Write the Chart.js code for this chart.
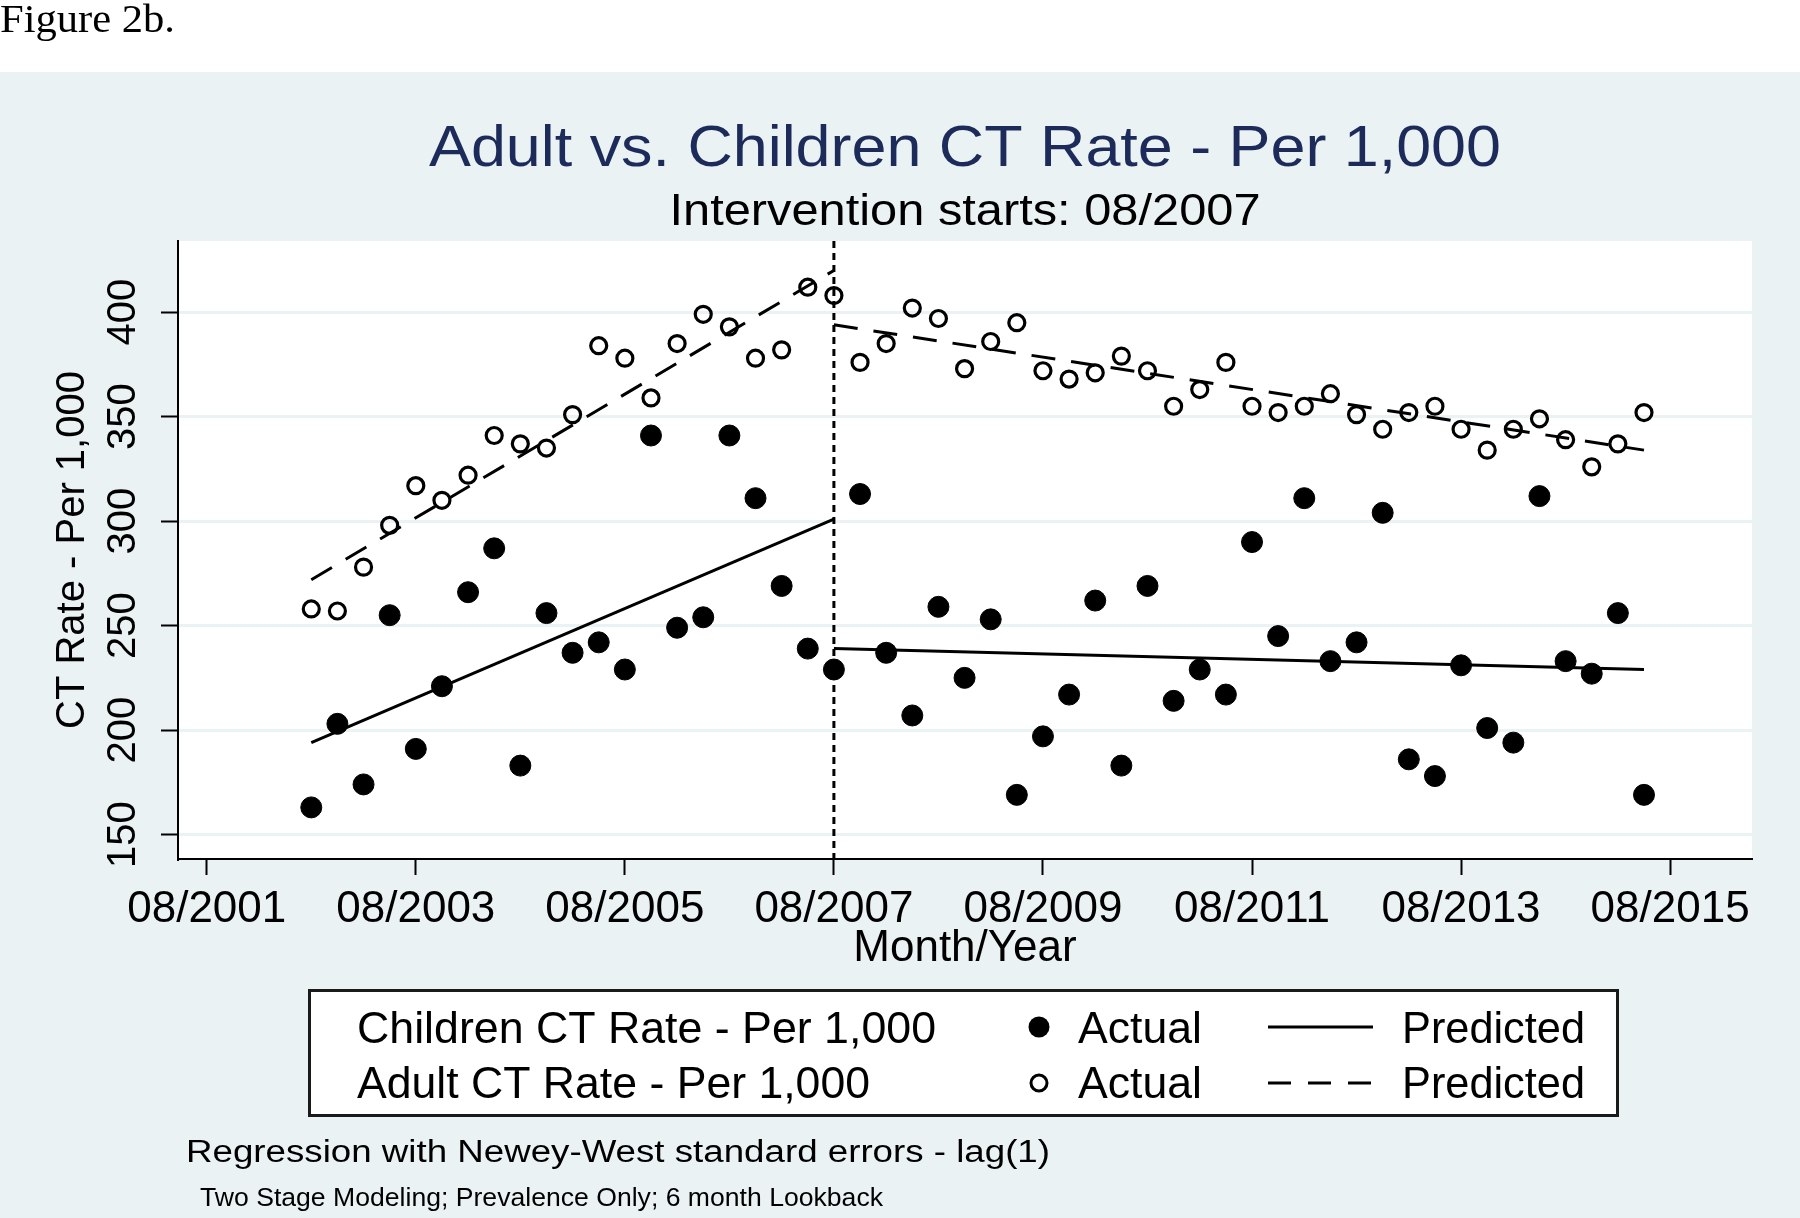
<!DOCTYPE html>
<html>
<head>
<meta charset="utf-8">
<title>Adult vs. Children CT Rate - Per 1,000</title>
<script src="https://cdn.jsdelivr.net/npm/chart.js@4.4.0/dist/chart.umd.min.js"></script>
<style>
  html, body { margin: 0; padding: 0; background: #fff; }
  canvas { display: block; }
</style>
</head>
<body>
<canvas id="ctChart" width="1800" height="1218"></canvas>
<script>
// quarterly observations (month/year)
const quarters = [
  '08/2002', '11/2002', '02/2003', '05/2003', '08/2003', '11/2003', '02/2004', '05/2004',
  '08/2004', '11/2004', '02/2005', '05/2005', '08/2005', '11/2005', '02/2006', '05/2006',
  '08/2006', '11/2006', '02/2007', '05/2007', '08/2007', '11/2007', '02/2008', '05/2008',
  '08/2008', '11/2008', '02/2009', '05/2009', '08/2009', '11/2009', '02/2010', '05/2010',
  '08/2010', '11/2010', '02/2011', '05/2011', '08/2011', '11/2011', '02/2012', '05/2012',
  '08/2012', '11/2012', '02/2013', '05/2013', '08/2013', '11/2013', '02/2014', '05/2014',
  '08/2014', '11/2014', '02/2015', '05/2015'
];

const childrenActual = [
  163, 203, 174, 255, 191, 221, 266, 287, 183, 256, 237, 242, 229,
  341, 249, 254, 341, 311, 269, 239, 229, 313, 237, 207, 259, 225,
  253, 169, 197, 217, 262, 183, 269, 214, 229, 217, 290, 245, 311,
  233, 242, 304, 186, 178, 231, 201, 194, 312, 233, 227, 256, 169
];

const adultActual = [
  258, 257, 278, 298, 317, 310, 322, 341, 337, 335, 351, 384, 378,
  359, 385, 399, 393, 378, 382, 412, 408, 376, 385, 402, 397, 373,
  386, 395, 372, 368, 371, 379, 372, 355, 363, 376, 355, 352, 355,
  361, 351, 344, 352, 355, 344, 334, 344, 349, 339, 326, 337, 352
];

// fitted segmented regression lines (end points)
const preDates = ['08/2002', '08/2007'];
const postDates = ['08/2007', '05/2015'];
const childrenPredPre = [194, 301];
const childrenPredPost = [239, 229];
const adultPredPre = [272, 420];
const adultPredPost = [394, 334];

const interventionDate = '08/2007';
const xTickLabels = ['08/2001', '08/2003', '08/2005', '08/2007', '08/2009', '08/2011', '08/2013', '08/2015'];
const yTickValues = [150, 200, 250, 300, 350, 400];

const FONT = "'Liberation Sans', Arial, sans-serif";
const BG = '#eaf2f3';

// months since 08/2001
function toMonth(d) {
    const parts = d.split('/').map(Number);
    return (parts[1] - 2001) * 12 + (parts[0] - 8);
}

function points(dates, values) {
    return dates.map((d, i) => ({ x: toMonth(d), y: values[i] }));
}

// draws text squeezed/stretched to a target width
function drawText(ctx, text, x, y, font, width, align) {
    ctx.save();
    ctx.font = font;
    const natural = ctx.measureText(text).width;
    const sx = width ? width / natural : 1;
    let ox = 0;
    if (align === 'center') ox = -natural * sx / 2;
    ctx.translate(x + ox, y);
    ctx.scale(sx, 1);
    ctx.textAlign = 'left';
    ctx.textBaseline = 'alphabetic';
    ctx.fillText(text, 0, 0);
    ctx.restore();
}

const backdrop = {
    id: 'backdrop',
    beforeDraw(chart) {
        const { ctx, width, height, chartArea: a } = chart;
        ctx.save();
        ctx.fillStyle = '#ffffff';
        ctx.fillRect(0, 0, width, height);
        ctx.fillStyle = BG;
        ctx.fillRect(0, 72, width, height - 72);
        ctx.fillStyle = '#ffffff';
        ctx.fillRect(a.left, a.top, a.right - a.left, a.bottom - a.top);
        ctx.restore();
    }
};

const interventionLine = {
    id: 'interventionLine',
    beforeDatasetsDraw(chart) {
        const { ctx, chartArea: a } = chart;
        const x = chart.scales.x.getPixelForValue(toMonth(interventionDate));
        ctx.save();
        ctx.strokeStyle = '#000';
        ctx.lineWidth = 3;
        ctx.setLineDash([7, 5]);
        ctx.beginPath();
        ctx.moveTo(x, a.top);
        ctx.lineTo(x, a.bottom);
        ctx.stroke();
        ctx.restore();
    }
};

const annotations = {
    id: 'annotations',
    afterDraw(chart) {
        const ctx = chart.ctx;
        ctx.save();
        ctx.fillStyle = '#000';
        drawText(ctx, 'Figure 2b.', 0, 32, "40px 'Liberation Serif', 'Times New Roman', serif", 175, 'left');

        ctx.fillStyle = '#1c2b5a';
        drawText(ctx, 'Adult vs. Children CT Rate - Per 1,000', 965, 166, '57px ' + FONT, 1072, 'center');
        ctx.fillStyle = '#000';
        drawText(ctx, 'Intervention starts: 08/2007', 965, 225, '45px ' + FONT, 591, 'center');

        // legend box
        ctx.fillStyle = '#ffffff';
        ctx.fillRect(308, 989, 1311, 128);
        ctx.strokeStyle = '#1a1a1a';
        ctx.lineWidth = 3;
        ctx.strokeRect(309.5, 990.5, 1308, 125);

        ctx.fillStyle = '#000';
        const lf = '44px ' + FONT;
        drawText(ctx, 'Children CT Rate - Per 1,000', 357, 1043, lf, 579, 'left');
        drawText(ctx, 'Adult CT Rate - Per 1,000', 357, 1098, lf, 513, 'left');
        drawText(ctx, 'Actual', 1078, 1043, lf, 124, 'left');
        drawText(ctx, 'Actual', 1078, 1098, lf, 124, 'left');
        drawText(ctx, 'Predicted', 1402, 1043, lf, 183, 'left');
        drawText(ctx, 'Predicted', 1402, 1098, lf, 183, 'left');

        ctx.beginPath();
        ctx.arc(1039, 1027, 10.5, 0, Math.PI * 2);
        ctx.fill();
        ctx.strokeStyle = '#000';
        ctx.lineWidth = 3;
        ctx.beginPath();
        ctx.arc(1039, 1083, 8, 0, Math.PI * 2);
        ctx.stroke();

        ctx.lineWidth = 3.2;
        ctx.beginPath();
        ctx.moveTo(1268, 1027);
        ctx.lineTo(1373, 1027);
        ctx.stroke();
        ctx.setLineDash([23, 17]);
        ctx.beginPath();
        ctx.moveTo(1268, 1083);
        ctx.lineTo(1373, 1083);
        ctx.stroke();
        ctx.setLineDash([]);

        drawText(ctx, 'Regression with Newey-West standard errors - lag(1)', 186, 1162, '31px ' + FONT, 864, 'left');
        drawText(ctx, 'Two Stage Modeling; Prevalence Only; 6 month Lookback', 200, 1206, '26px ' + FONT, 683, 'left');
        ctx.restore();
    }
};

const lineStyle = {
    showLine: true,
    pointRadius: 0,
    borderColor: '#000',
    borderWidth: 3,
    fill: false
};

const ctx = document.getElementById('ctChart').getContext('2d');
const ctChart = new Chart(ctx, {
    type: 'scatter',
    data: {
        datasets: [
            Object.assign({ label: 'Children Predicted (pre)', data: points(preDates, childrenPredPre) }, lineStyle),
            Object.assign({ label: 'Children Predicted (post)', data: points(postDates, childrenPredPost) }, lineStyle),
            Object.assign({ label: 'Adult Predicted (pre)', data: points(preDates, adultPredPre), borderDash: [24, 16] }, lineStyle),
            Object.assign({ label: 'Adult Predicted (post)', data: points(postDates, adultPredPost), borderDash: [24, 16] }, lineStyle),
            {
                label: 'Children Actual',
                data: points(quarters, childrenActual),
                pointRadius: 10.5,
                backgroundColor: '#000',
                borderColor: '#000',
                borderWidth: 1
            },
            {
                label: 'Adult Actual',
                data: points(quarters, adultActual),
                pointRadius: 8,
                backgroundColor: 'rgba(0,0,0,0)',
                borderColor: '#000',
                borderWidth: 3.2
            }
        ]
    },
    options: {
        responsive: false,
        animation: false,
        devicePixelRatio: 1,
        events: [],
        layout: {
            padding: { top: 241, right: 48, bottom: 243, left: 30 }
        },
        plugins: {
            legend: { display: false },
            tooltip: { enabled: false }
        },
        scales: {
            x: {
                type: 'linear',
                min: -3.3,
                max: 177.4,
                afterBuildTicks: scale => {
                    scale.ticks = xTickLabels.map(d => ({ value: toMonth(d) }));
                },
                afterFit: scale => { scale.height = 116; },
                ticks: {
                    callback: (value, index) => xTickLabels[index],
                    font: { family: FONT, size: 44 },
                    color: '#000',
                    padding: 8,
                    minRotation: 0,
                    maxRotation: 0,
                    autoSkip: false
                },
                grid: {
                    drawOnChartArea: false,
                    drawTicks: true,
                    tickLength: 16,
                    tickColor: '#000',
                    tickWidth: 2
                },
                border: { display: true, color: '#000', width: 2 },
                title: {
                    display: true,
                    text: 'Month/Year',
                    font: { family: FONT, size: 44 },
                    color: '#000',
                    padding: { top: 0, bottom: 0 }
                }
            },
            y: {
                type: 'linear',
                min: 138.3,
                max: 434.1,
                afterBuildTicks: scale => {
                    scale.ticks = yTickValues.map(v => ({ value: v }));
                },
                afterFit: scale => { scale.width = 148; },
                ticks: {
                    font: { family: FONT, size: 40 },
                    color: '#000',
                    padding: 4,
                    minRotation: 90,
                    maxRotation: 90,
                    crossAlign: 'center'
                },
                grid: {
                    color: BG,
                    lineWidth: 3,
                    drawTicks: true,
                    tickLength: 17,
                    tickColor: '#000',
                    tickWidth: 2
                },
                border: { display: true, color: '#000', width: 2 },
                title: {
                    display: true,
                    text: 'CT Rate - Per 1,000',
                    font: { family: FONT, size: 40 },
                    color: '#000',
                    padding: { top: 19, bottom: 0 }
                }
            }
        }
    },
    plugins: [backdrop, interventionLine, annotations]
});
</script>
</body>
</html>
